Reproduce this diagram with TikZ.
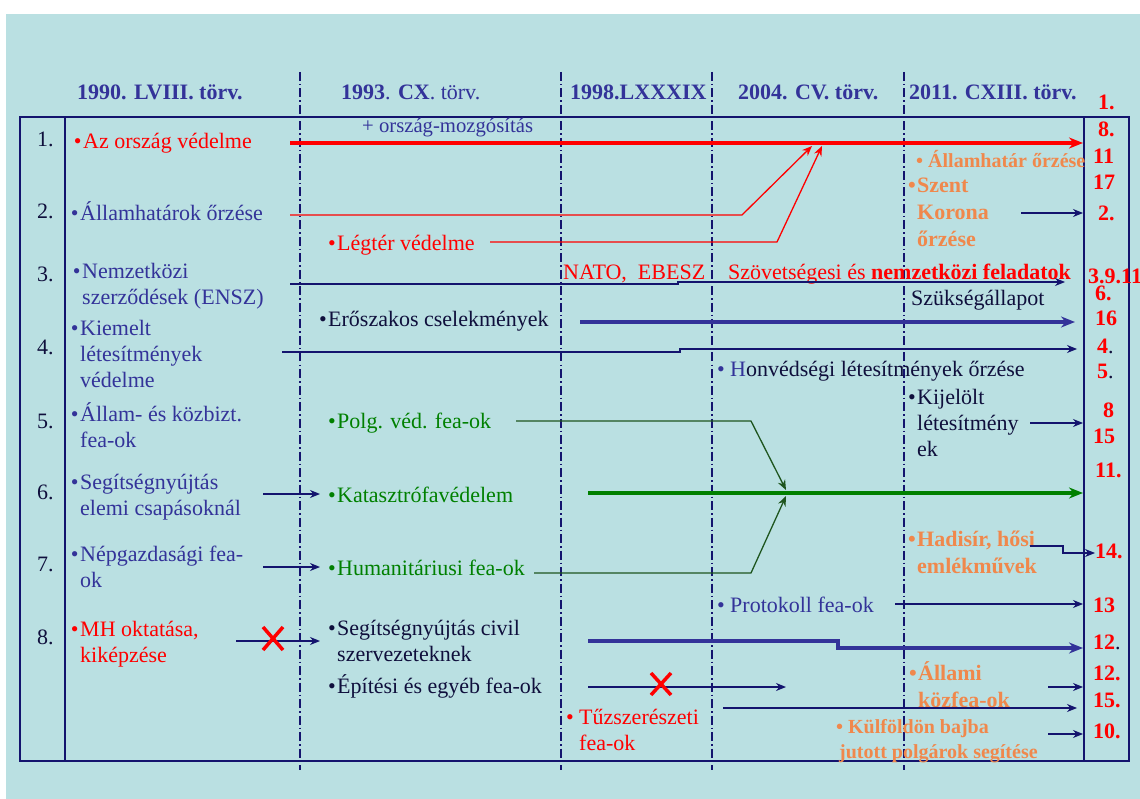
\documentclass[tikz,border=0pt]{standalone}
\usepackage{fontspec}
\setmainfont{Liberation Serif}
\usetikzlibrary{arrows.meta}

\definecolor{bg}{RGB}{186,224,226}
\definecolor{rule}{RGB}{20,20,110}
\definecolor{ink}{RGB}{51,51,153}
\definecolor{deep}{RGB}{15,15,60}
\definecolor{hot}{RGB}{255,0,0}
\definecolor{amber}{RGB}{240,136,76}
\definecolor{leaf}{RGB}{0,128,0}
\definecolor{darkleaf}{RGB}{30,85,30}

\newcommand{\bl}{\llap{•\hspace{1.5pt}}}
\newcommand{\bls}{\llap{•\ }}

% multi-line nodes are placed by the baseline of their last line
\tikzset{
  txt/.style={anchor=base west, inner sep=0pt, align=left,
              font=\fontsize{22}{26}\selectfont},
  head/.style={txt, font=\fontsize{22}{26}\selectfont\bfseries, text=ink},
  num/.style={txt, text=deep},
  rnum/.style={txt, font=\fontsize{22}{26}\selectfont\bfseries, text=hot},
  hl/.style={txt, font=\fontsize{22}{27}\selectfont\bfseries, text=amber},
  hlsmall/.style={txt, font=\fontsize{20}{25}\selectfont\bfseries, text=amber},
  lane/.style={draw=rule, line width=1.2pt,
               dash pattern=on 9pt off 3pt on 1.5pt off 3pt},
  frameline/.style={draw=rule, line width=1.4pt},
  thinarrow/.style={line width=1.3pt, -{Stealth[length=10pt,width=8pt]}},
  thickarrow/.style={line width=4pt, -{Stealth[length=14pt,width=11pt]}},
  cross/.style={draw=hot, line width=3.5pt},
}

\begin{document}
\begin{tikzpicture}[x=1pt,y=-1pt]
\useasboundingbox (0,0) rectangle (1140,799);
\fill[white] (0,0) rectangle (1140,799);
\fill[bg] (6,14) rectangle (1140,799);

% table frame
\draw[frameline] (20,117) rectangle (1129,761);
\draw[frameline] (65,117) -- (65,761);
\draw[frameline] (1084,117) -- (1084,761);

% period separators
\foreach \x in {300,561,712,904} \draw[lane] (\x,72) -- (\x,770);

% column headings
\node[head] (h1) at (77,100) {1990. LVIII. törv.};
\node[head] (h2) at (341,100) {1993{\mdseries .} CX{\mdseries . törv.}};
\node[head] (h3) at (570,100) {1998.LXXXIX};
\node[head] (h4) at (738,100) {2004. CV. törv.};
\node[head] (h5) at (909,100) {2011. CXIII. törv.};

% row numbers
\node[num] (n1) at (37,147) {1.};
\node[num] (n2) at (37,219) {2.};
\node[num] (n3) at (37,282) {3.};
\node[num] (n4) at (37,355) {4.};
\node[num] (n5) at (37,428) {5.};
\node[num] (n6) at (37,499) {6.};
\node[num] (n7) at (37,571) {7.};
\node[num] (n8) at (37,644) {8.};

% 1990 tasks
\node[txt, text=hot] (l1) at (83,149) {\bl Az ország védelme};
\node[txt, text=ink] (l2) at (80,221) {\bl Államhatárok őrzése};
\node[txt, text=ink] (l3) at (82,305) {\bl Nemzetközi\\szerződések (ENSZ)};
\node[txt, text=ink] (l4) at (80,388) {\bl Kiemelt\\létesítmények\\védelme};
\node[txt, text=ink] (l5) at (80,447) {\bl Állam- és közbizt.\\fea-ok};
\node[txt, text=ink] (l6) at (80,515) {\bl Segítségnyújtás\\elemi csapásoknál};
\node[txt, text=ink] (l7) at (80,587) {\bl Népgazdasági fea-\\ok};
\node[txt, text=hot] (l8) at (80,662) {\bl MH oktatása,\\kiképzése};

% later tasks
\node[txt, text=ink, font=\fontsize{20.7}{25}\selectfont] (mob) at (362,133) {+ ország-mozgósítás};
\node[txt, text=hot] (legter) at (337,251) {\bl Légtér védelme};
\node[txt, text=hot] (nato) at (563,280) {NATO,\ \ EBESZ};
\node[txt, text=hot] (szov) at (728,280) {Szövetségesi és \textbf{nemzetközi feladatok}};
\node[txt, text=deep] (szuk) at (911,306) {Szükségállapot};
\node[txt, text=deep] (erosz) at (328,327) {\bl Erőszakos cselekmények};
\node[txt, text=deep] (honv) at (730,377) {\llap{\textcolor{ink}{•}\ }\textcolor{ink}{H}onvédségi létesítmények őrzése};
\node[txt, text=deep] (kij) at (917,456) {\bl Kijelölt\\létesítmény\\ek};
\node[txt, text=leaf] (polg) at (337,428) {\bl Polg. véd. fea-ok};
\node[txt, text=leaf] (kata) at (337,502) {\bl Katasztrófavédelem};
\node[txt, text=leaf] (hum) at (337,575) {\bl Humanitáriusi fea-ok};
\node[txt, text=deep] (civil) at (337,661) {\bl Segítségnyújtás civil\\szervezeteknek};
\node[txt, text=deep] (epit) at (337,693) {\bl Építési és egyéb fea-ok};
\node[txt, text=hot] (tuz) at (579,750) {\bls Tűzszerészeti\\fea-ok};
\node[txt, text=ink] (prot) at (730,612) {\bls Protokoll fea-ok};

% 2011 additions
\node[hlsmall] (ahat) at (928,168) {\bls Államhatár őrzése};
\node[hl] (szent) at (917,247) {\bl Szent\\Korona\\őrzése};
\node[hl] (hadi) at (917,573) {\bl Hadisír, hősi\\emlékművek};
\node[hl] (allami) at (918,707) {\bl Állami\\közfea-ok};
\node[hlsmall] (kulfa) at (848,733) {\bls Külföldön bajba};
\node[hlsmall] (kulfb) at (839,758) {jutott polgárok segítése};

% paragraph references
\node[rnum] (r1) at (1098,110) {1.};
\node[rnum] (r8) at (1098,137) {8.};
\node[rnum] (r11) at (1093,164) {11};
\node[rnum] (r17) at (1093,190) {17};
\node[rnum] (r2) at (1098,221) {2.};
\node[rnum] (r39) at (1088,284) {3.9.11};
\node[rnum] (r6) at (1095,301) {6.};
\node[rnum] (r16) at (1095,326) {16};
\node[rnum] (r4) at (1097,353) {4\textcolor{deep}{\mdseries .}};
\node[rnum] (r5) at (1097,378) {5\textcolor{deep}{\mdseries .}};
\node[rnum] (r8b) at (1103,417) {8};
\node[rnum] (r15) at (1093,443) {15};
\node[rnum] (r11b) at (1095,477) {11.};
\node[rnum] (r14) at (1095,558) {14.};
\node[rnum] (r13) at (1093,612) {13};
\node[rnum] (r12) at (1093,649) {12\textcolor{deep}{\mdseries .}};
\node[rnum] (r12b) at (1093,680) {12.};
\node[rnum] (r15b) at (1093,707) {15.};
\node[rnum] (r10) at (1093,738) {10.};

% connector end points
\coordinate (a1s) at (290,143);   \coordinate (a1e) at (1083,143);
\coordinate (a2s) at (290,215);   \coordinate (a2k) at (742,215);  \coordinate (a2e) at (812,146);
\coordinate (a3s) at (490,242);   \coordinate (a3k) at (777,242);  \coordinate (a3e) at (822,146);
\coordinate (a4s) at (290,284);   \coordinate (a4k) at (678,284);  \coordinate (a4e) at (1065,282);
\coordinate (a5s) at (580,322);   \coordinate (a5e) at (1075,322);
\coordinate (a6s) at (282,352);   \coordinate (a6k) at (680,352);  \coordinate (a6e) at (1077,349);
\coordinate (a7s) at (1030,423);  \coordinate (a7e) at (1083,423);
\coordinate (a8s) at (516,421);   \coordinate (a8k) at (751,421);  \coordinate (a8e) at (786,490);
\coordinate (a9s) at (534,573);   \coordinate (a9k) at (751,573);  \coordinate (a9e) at (786,496);
\coordinate (a10s) at (588,493);  \coordinate (a10e) at (1083,493);
\coordinate (a11s) at (263,494);  \coordinate (a11e) at (320,494);
\coordinate (a12s) at (263,567);  \coordinate (a12e) at (320,567);
\coordinate (a13s) at (236,641);  \coordinate (a13e) at (320,641);
\coordinate (a14s) at (588,641);  \coordinate (a14k) at (838,641); \coordinate (a14e) at (1083,648);
\coordinate (a15s) at (588,687);  \coordinate (a15e) at (786,687);
\coordinate (a16s) at (723,708);  \coordinate (a16e) at (1077,708);
\coordinate (a17s) at (895,604);  \coordinate (a17e) at (1083,604);
\coordinate (a18s) at (1021,213); \coordinate (a18e) at (1083,213);
\coordinate (a19s) at (1030,546); \coordinate (a19k) at (1063,546); \coordinate (a19e) at (1095,553);
\coordinate (a20s) at (1048,687); \coordinate (a20e) at (1083,687);
\coordinate (a21s) at (1048,734); \coordinate (a21e) at (1083,734);

% national defence and what merges into it
\draw[thickarrow, hot] (a1s) -- (a1e);
\draw[thinarrow, hot] (a2s) -- (a2k) -- (a2e);
\draw[thinarrow, hot] (a3s) -- (a3k) -- (a3e);

% international and protective tasks
\draw[thinarrow, rule] (a4s) -- (a4k) |- (a4e);
\draw[thickarrow, ink, line width=3.5pt] (a5s) -- (a5e);
\draw[thinarrow, rule] (a6s) -- (a6k) |- (a6e);
\draw[thinarrow, rule] (a7s) -- (a7e);

% civil protection merging into disaster management
\draw[thinarrow, darkleaf] (a8s) -- (a8k) -- (a8e);
\draw[thinarrow, darkleaf] (a9s) -- (a9k) -- (a9e);
\draw[thickarrow, leaf] (a10s) -- (a10e);

% transfers from 1990 to 1993
\draw[thinarrow, rule] (a11s) -- (a11e);
\draw[thinarrow, rule] (a12s) -- (a12e);
\draw[thinarrow, rule] (a13s) -- (a13e);

% remaining tasks
\draw[thickarrow, ink, line width=3.5pt] (a14s) -- (a14k) |- (a14e);
\draw[thinarrow, rule] (a15s) -- (a15e);
\draw[thinarrow, rule] (a16s) -- (a16e);
\draw[thinarrow, rule] (a17s) -- (a17e);
\draw[thinarrow, rule] (a18s) -- (a18e);
\draw[thinarrow, rule] (a19s) -- (a19k) |- (a19e);
\draw[thinarrow, rule] (a20s) -- (a20e);
\draw[thinarrow, rule] (a21s) -- (a21e);

% discontinued tasks
\draw[cross] (263,627) -- (283,650) (263,650) -- (283,627);
\draw[cross] (651,673) -- (671,695) (651,695) -- (671,673);
\end{tikzpicture}
\end{document}
